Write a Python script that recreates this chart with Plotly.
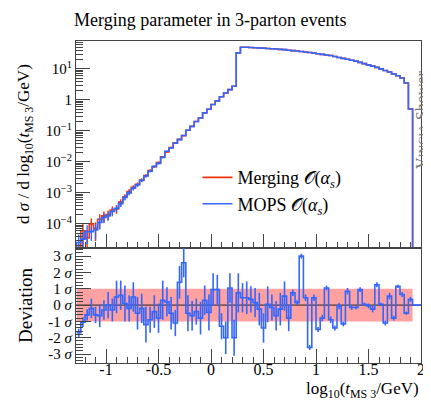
import plotly.graph_objects as go

# ---------------- data ----------------
bin_start = -1.28
bin_width = 0.04
n_bins = 80
edges = [round(bin_start + bin_width * i, 2) for i in range(n_bins + 1)]
centers = [round(bin_start + bin_width * (i + 0.5), 3) for i in range(n_bins)]

mops = [2.5e-5, 3.2e-5, 5.6e-5, 5.6e-5, 6.3e-5, 1.1e-4, 1.6e-4, 1.8e-4, 2.5e-4, 3.2e-4,
        4.5e-4, 7.1e-4, 1.0e-3, 1.4e-3, 1.8e-3, 2.5e-3, 3.5e-3, 5.0e-3, 7.1e-3, 8.9e-3,
        1.4e-2, 2.2e-2, 2.8e-2, 4.0e-2, 5.2e-2, 7.1e-2, 0.105, 0.14, 0.20, 0.26,
        0.38, 0.50, 0.71, 0.93, 1.26, 1.66, 2.14, 2.75, 32.8, 50.1,
        50.0, 49.0, 47.9, 47.3, 46.8, 45.7, 44.7, 43.7, 42.7, 41.7,
        39.8, 38.9, 37.6, 36.3, 35.1, 33.9, 32.4, 30.9, 29.5, 28.2,
        26.9, 25.1, 23.4, 21.9, 20.4, 19.1, 17.8, 16.2, 14.8, 13.5,
        12.3, 11.2, 10.0, 8.9, 7.9, 6.9, 6.0, 5.1, 3.5, 0.51]

merging_low = [1.2e-5, 6.0e-5, 3.5e-5, 1.0e-4, 7.0e-5, 1.4e-4, 1.8e-4, 2.0e-4, 2.8e-4, 3.0e-4,
               5.0e-4, 7.5e-4, 1.1e-3, 1.5e-3, 1.9e-3, 2.6e-3, 3.6e-3, 5.2e-3, 7.0e-3, 9.5e-3,
               1.45e-2, 2.1e-2, 2.9e-2, 4.1e-2, 5.3e-2, 7.0e-2]
merging = merging_low + mops[len(merging_low):]

mops_relerr_low = [0.8, 0.7, 0.6, 0.5, 0.5, 0.4, 0.35, 0.3, 0.3, 0.25,
                   0.22, 0.2, 0.18, 0.15, 0.14, 0.12, 0.11, 0.1, 0.09, 0.08,
                   0.07, 0.06, 0.06, 0.05, 0.05, 0.04]
merging_relerr_low = [0.9, 0.7, 0.8, 0.5, 0.6, 0.45, 0.4, 0.35, 0.3, 0.3,
                      0.25, 0.2, 0.2, 0.17, 0.15, 0.13, 0.12, 0.1, 0.09, 0.08,
                      0.07, 0.07, 0.06, 0.05, 0.05, 0.04]

deviation = [-1.7, -1.05, -0.6, -0.2, -0.6, -0.65, -0.3, 0.0, -0.3, 0.5,
             0.6, 0.1, -0.2, 0.5, -0.5, -0.2, -1.2, -0.9, -0.4, -0.8,
             0.3, 0.2, -0.5, -1.1, 1.4, 2.6, -0.5, -0.65, -0.4, -0.8,
             0.3, -0.45, 0.95, 0.95, -1.3, -2.0, 1.05, -2.0, 0.75, 0.45,
             0.45, 0.35, 0.15, -0.25, -1.4, 0.05, -0.15, -0.65, -0.25, 0.55,
             -0.8, 0.75, 0.15, 3.0, 0.45, -2.6, 0.45, -1.5, -0.8, 1.05,
             -0.9, -1.4, -0.05, -1.15, 0.85, -0.15, -0.15, 0.95, 0.05, -0.05,
             -0.25, 1.25, 0.05, -1.1, 0.55, -0.8, 1.15, 0.65, -0.5, 0.35]
deviation_tail = [0.0, 0.0]   # bins beyond the last filled bin, up to x = 2
deviation_err = [0.25, 0.3, 0.35, 0.6, 0.5, 0.7, 0.6, 0.8, 0.7,
                 1.0, 0.9, 1.1, 0.8, 0.9, 1.0, 0.9, 1.1, 0.8, 1.0, 0.9, 1.2, 0.9, 1.0,
                 0.8, 1.0, 0.9, 1.1, 0.9, 0.8, 1.0, 0.9, 1.1, 1.0, 0.9, 0.8, 1.0, 0.9,
                 1.1, 1.2, 0.9, 1.0, 0.8, 0.9, 1.0, 0.9, 1.1, 0.8, 0.9, 1.0, 0.9, 0.8,
                 0.2, 0.15, 0.15, 0.2, 0.15, 0.2, 0.15, 0.2, 0.15, 0.2, 0.15, 0.2, 0.15,
                 0.2, 0.15, 0.1, 0.15, 0.1, 0.15, 0.2, 0.15, 0.1, 0.15, 0.2, 0.15, 0.1,
                 0.15, 0.1, 0.15]

x_ticks = [-1, -0.5, 0, 0.5, 1, 1.5, 2]
x_ticktext = ["-1", "-0.5", "0", "0.5", "1", "1.5", "2"]
y_ticks = [1e-4, 1e-3, 1e-2, 1e-1, 1, 10]
y_ticktext = ["10<sup>−4</sup>", "10<sup>−3</sup>", "10<sup>−2</sup>", "10<sup>−1</sup>", "1", "10<sup>1</sup>"]
dev_ticks = [-3, -2, -1, 0, 1, 2, 3]
dev_ticktext = ["-3 <i>σ</i>", "-2 <i>σ</i>", "-1 <i>σ</i>", "0 <i>σ</i>", "1 <i>σ</i>", "2 <i>σ</i>", "3 <i>σ</i>"]

# ---------------- style ----------------
RED = "#EE3311"
BLUE = "#3366FF"
BAND = "rgba(255,110,110,0.65)"
FONT = "Liberation Serif"
FRAME = "#444444"
X_RANGE = [-1.286, 2.0]
Y_RANGE = [-4.78, 1.90]
DEV_RANGE = [-3.55, 3.5]
TINY = 1e-9

fig = go.Figure()

def step_xy(vals):
    return [edges[0]] + edges, [TINY] + list(vals) + [TINY]

# Merging (red)
sx, sy = step_xy(merging)
fig.add_trace(go.Scatter(x=sx, y=sy, mode="lines", line=dict(color=RED, width=1.6, shape="hv"),
                         name="Merging 𝒪(<i>α</i><sub><i>s</i></sub>)", xaxis="x", yaxis="y"))
n = len(merging_relerr_low)
fig.add_trace(go.Scatter(x=centers[:n], y=merging[:n], mode="markers", marker=dict(size=0.1, color=RED),
                         error_y=dict(type="data", symmetric=False,
                                      array=[v * e for v, e in zip(merging[:n], merging_relerr_low)],
                                      arrayminus=[v * e for v, e in zip(merging[:n], merging_relerr_low)],
                                      color=RED, thickness=1.4, width=0),
                         showlegend=False, hoverinfo="skip", xaxis="x", yaxis="y"))

# MOPS (blue)
sx, sy = step_xy(mops)
fig.add_trace(go.Scatter(x=sx, y=sy, mode="lines", line=dict(color=BLUE, width=1.6, shape="hv"),
                         name="MOPS 𝒪(<i>α</i><sub><i>s</i></sub>)", xaxis="x", yaxis="y"))
n = len(mops_relerr_low)
fig.add_trace(go.Scatter(x=centers[:n], y=mops[:n], mode="markers", marker=dict(size=0.1, color=BLUE),
                         error_y=dict(type="data", symmetric=False,
                                      array=[v * e for v, e in zip(mops[:n], mops_relerr_low)],
                                      arrayminus=[v * e for v, e in zip(mops[:n], mops_relerr_low)],
                                      color=BLUE, thickness=1.4, width=0),
                         showlegend=False, hoverinfo="skip", xaxis="x", yaxis="y"))

# Deviation panel
band = 1.0
fig.add_trace(go.Scatter(x=[edges[0], edges[-1], edges[-1], edges[0], edges[0]],
                         y=[-band, -band, band, band, -band], mode="lines", fill="toself",
                         fillcolor=BAND, line=dict(width=0), showlegend=False, hoverinfo="skip",
                         xaxis="x2", yaxis="y2"))
fig.add_trace(go.Scatter(x=X_RANGE, y=[0, 0], mode="lines", line=dict(color="#222222", width=1),
                         showlegend=False, hoverinfo="skip", xaxis="x2", yaxis="y2"))
dev_all = deviation + deviation_tail
dev_edges = [round(bin_start + bin_width * i, 2) for i in range(len(dev_all) + 1)]
fig.add_trace(go.Scatter(x=dev_edges, y=dev_all + [dev_all[-1]], mode="lines",
                         line=dict(color=BLUE, width=1.6, shape="hv"),
                         showlegend=False, hoverinfo="skip", xaxis="x2", yaxis="y2"))
fig.add_trace(go.Scatter(x=centers, y=deviation, mode="markers", marker=dict(size=0.1, color=BLUE),
                         error_y=dict(type="data", array=deviation_err, color=BLUE, thickness=1.6, width=0),
                         showlegend=False, hoverinfo="skip", xaxis="x2", yaxis="y2"))

split = (355 - 240) / 322
axis_common = dict(showline=True, linecolor=FRAME, linewidth=1, mirror=True, showgrid=False,
                   zeroline=False, ticks="inside", tickcolor=FRAME)

fig.update_layout(
    width=431, height=401,
    margin=dict(l=68, r=18, t=33, b=46),
    paper_bgcolor="white", plot_bgcolor="white",
    font=dict(family=FONT, size=15, color="black"),
    xaxis=dict(domain=[0, 1], anchor="y", range=X_RANGE, showticklabels=False,
               tickmode="array", tickvals=x_ticks, ticklen=14,
               minor=dict(ticks="inside", tickmode="linear", tick0=0, dtick=0.1, ticklen=6, tickcolor=FRAME),
               **axis_common),
    yaxis=dict(domain=[split, 1], anchor="x", type="log", range=Y_RANGE,
               tickmode="array", tickvals=y_ticks, ticktext=y_ticktext, ticklen=14,
               minor=dict(ticks="inside", tickmode="array",
                          tickvals=[k * 10 ** e for e in range(-5, 2) for k in range(2, 10)],
                          ticklen=7, tickcolor=FRAME),
               tickfont=dict(size=15), **axis_common),
    xaxis2=dict(domain=[0, 1], anchor="y2", range=X_RANGE,
                tickmode="array", tickvals=x_ticks, ticktext=x_ticktext, ticklen=14,
                ticklabelstandoff=-8,
                minor=dict(ticks="inside", tickmode="linear", tick0=0, dtick=0.1, ticklen=6, tickcolor=FRAME),
                tickfont=dict(size=16), **axis_common),
    yaxis2=dict(domain=[0, split], anchor="x2", range=DEV_RANGE,
                tickmode="array", tickvals=dev_ticks, ticktext=dev_ticktext, ticklen=15,
                minor=dict(ticks="inside", tickmode="linear", tick0=0, dtick=0.2, ticklen=7, tickcolor=FRAME),
                tickfont=dict(size=15), **axis_common),
    legend=dict(x=0.352, y=0.633, xanchor="left", yanchor="top", bgcolor="rgba(0,0,0,0)",
                font=dict(family=FONT, size=18), tracegroupgap=0, itemwidth=30),
    showlegend=True,
)

fig.add_annotation(text="Merging parameter in 3-parton events", xref="paper", yref="paper",
                   x=-0.012, y=1.065, xanchor="left", yanchor="middle", showarrow=False,
                   font=dict(family=FONT, size=18))
fig.add_annotation(text="d <i>σ</i> / d log<sub>10</sub>(<i>t</i><sub>MS 3</sub>/GeV)",
                   xref="paper", yref="paper", x=-0.148, y=(355 - 136) / 322, textangle=-90,
                   xanchor="center", yanchor="middle", showarrow=False, font=dict(family=FONT, size=17))
fig.add_annotation(text="Deviation", xref="paper", yref="paper", x=-0.148, y=(355 - 297) / 322,
                   textangle=-90, xanchor="center", yanchor="middle", showarrow=False,
                   font=dict(family=FONT, size=19))
fig.add_annotation(text="log<sub>10</sub>(<i>t</i><sub>MS 3</sub>/GeV)", xref="paper", yref="paper",
                   x=1, y=(355 - 382) / 322, xanchor="right", yanchor="middle", showarrow=False,
                   font=dict(family=FONT, size=17))
fig.add_annotation(text="V<span style='font-size:12px'>INCIA</span> Shower", xref="paper", yref="paper",
                   x=(414 - 68) / 345, y=(355 - 112) / 322, textangle=-90, xanchor="center",
                   yanchor="middle", showarrow=False, font=dict(family=FONT, size=16, color="#777777"))

fig.write_html("out.html")
